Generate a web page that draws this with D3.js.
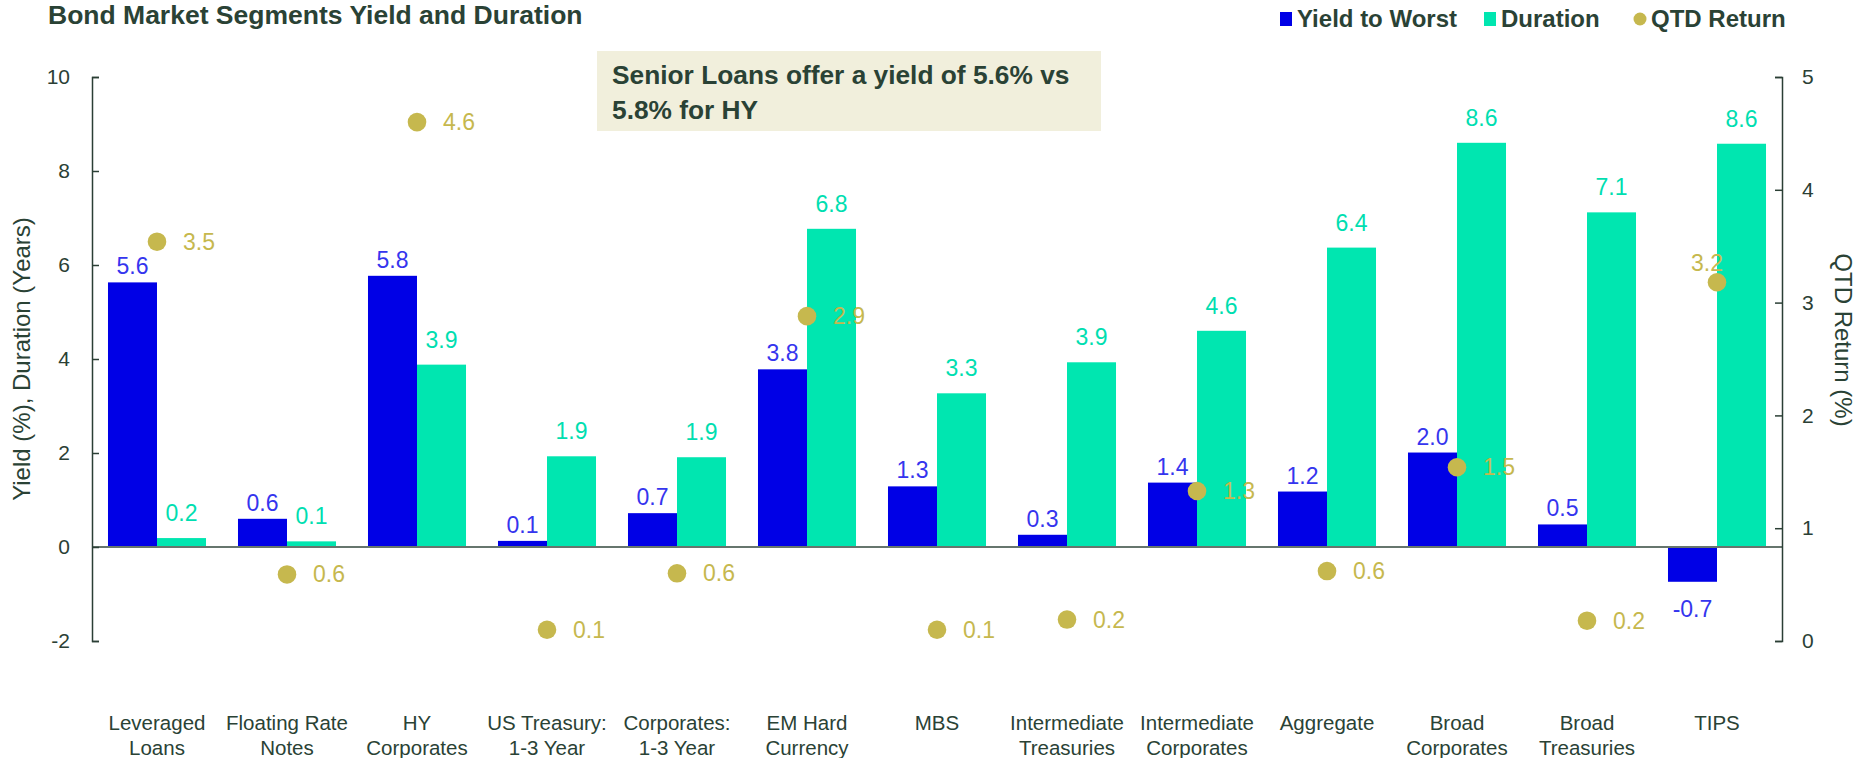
<!DOCTYPE html>
<html>
<head>
<meta charset="utf-8"/>
<script src="https://d3js.org/d3.v7.min.js"></script>
<style>
  body { margin: 0; background: #fff; overflow: hidden; }
  text { font-family: "Liberation Sans", Arial, sans-serif; }
  .axis path, .axis line { stroke: #2b3f35; stroke-width: 1.5; }
  .axis text { fill: #2b3f35; font-size: 21px; }
</style>
</head>
<body>
<svg id="svg" width="1864" height="758"></svg>
<script>
// chart values
var categories = [
  ["Leveraged", "Loans"], ["Floating Rate", "Notes"], ["HY", "Corporates"],
  ["US Treasury:", "1-3 Year"], ["Corporates:", "1-3 Year"], ["EM Hard", "Currency"],
  ["MBS"], ["Intermediate", "Treasuries"], ["Intermediate", "Corporates"],
  ["Aggregate"], ["Broad", "Corporates"], ["Broad", "Treasuries"], ["TIPS"]
];
var yieldToWorst = [5.63, 0.6, 5.77, 0.13, 0.72, 3.78, 1.29, 0.26, 1.37, 1.18, 2.01, 0.48, -0.74];
var duration     = [0.19, 0.12, 3.88, 1.93, 1.91, 6.77, 3.27, 3.93, 4.6, 6.37, 8.6, 7.12, 8.58];
var qtdReturn    = [3.54, 0.59, 4.6, 0.1, 0.6, 2.88, 0.1, 0.19, 1.33, 0.62, 1.54, 0.18, 3.18];
var leftTicks  = [-2, 0, 2, 4, 6, 8, 10];
var rightTicks = [0, 1, 2, 3, 4, 5];

var blue = "#0000e6", green = "#00e6b0", gold = "#c6b84e", ink = "#2a4235";

var margin = { left: 92, right: 82, top: 77, bottom: 117 },
    width = 1864 - margin.left - margin.right,
    height = 758 - margin.top - margin.bottom;

var svg = d3.select("#svg");
var g = svg.append("g").attr("transform", "translate(" + margin.left + "," + margin.top + ")");

var x = d3.scaleBand()
    .domain(d3.range(categories.length))
    .range([0, width])
    .paddingInner(0.246)
    .paddingOuter(0.123);
var xSub = d3.scaleBand().domain(["y", "d"]).range([0, x.bandwidth()]);

var yL = d3.scaleLinear().domain([-2, 10]).range([height, 0]);
var yR = d3.scaleLinear().domain([0, 5]).range([height, 0]);

// bars
var grp = g.selectAll(".cat").data(categories).enter().append("g")
    .attr("class", "cat")
    .attr("transform", function(d, i) { return "translate(" + x(i) + ",0)"; });

grp.append("rect")
    .attr("x", xSub("y"))
    .attr("width", xSub.bandwidth())
    .attr("y", function(d, i) { return yL(Math.max(0, yieldToWorst[i])); })
    .attr("height", function(d, i) { return Math.abs(yL(yieldToWorst[i]) - yL(0)); })
    .attr("fill", blue);

grp.append("rect")
    .attr("x", xSub("d"))
    .attr("width", xSub.bandwidth())
    .attr("y", function(d, i) { return yL(Math.max(0, duration[i])); })
    .attr("height", function(d, i) { return Math.abs(yL(duration[i]) - yL(0)); })
    .attr("fill", green);

// zero line
g.append("line")
    .attr("x1", 0).attr("x2", width)
    .attr("y1", yL(0)).attr("y2", yL(0))
    .attr("stroke", "#66756d").attr("stroke-width", 2);

// bar labels
grp.append("text")
    .attr("x", xSub("y") + xSub.bandwidth() / 2)
    .attr("y", function(d, i) { return yieldToWorst[i] >= 0 ? yL(yieldToWorst[i]) - 8 : yL(yieldToWorst[i]) + 35; })
    .attr("text-anchor", "middle")
    .style("font-size", "23px")
    .style("fill", "#3535ee")
    .text(function(d, i) { return yieldToWorst[i].toFixed(1); });

grp.append("text")
    .attr("x", xSub("d") + xSub.bandwidth() / 2)
    .attr("y", function(d, i) { return yL(duration[i]) - 17; })
    .attr("text-anchor", "middle")
    .style("font-size", "23px")
    .style("fill", "#00deb0")
    .text(function(d, i) { return duration[i].toFixed(1); });

// QTD dots
grp.append("circle")
    .attr("cx", x.bandwidth() / 2)
    .attr("cy", function(d, i) { return yR(qtdReturn[i]); })
    .attr("r", 9.3)
    .attr("fill", gold);

grp.append("text")
    .attr("x", function(d, i) { return i == categories.length - 1 ? x.bandwidth() / 2 - 10 : x.bandwidth() / 2 + 26; })
    .attr("y", function(d, i) { return i == categories.length - 1 ? yR(qtdReturn[i]) - 11 : yR(qtdReturn[i]) + 8; })
    .attr("text-anchor", function(d, i) { return i == categories.length - 1 ? "middle" : "start"; })
    .style("font-size", "23px")
    .style("fill", gold)
    .text(function(d, i) { return qtdReturn[i].toFixed(1); });

// category labels
grp.append("text")
    .attr("text-anchor", "middle")
    .style("font-size", "20.5px")
    .style("fill", ink)
    .selectAll("tspan")
    .data(function(d) { return d; })
    .enter().append("tspan")
    .attr("x", x.bandwidth() / 2)
    .attr("y", function(d, i) { return height + 89 + i * 25; })
    .text(function(d) { return d; });

// axes
g.append("g").attr("class", "axis")
    .call(d3.axisLeft(yL).tickValues(leftTicks).tickFormat(function(d) { return String(d); })
      .tickSizeInner(-7).tickSizeOuter(-7).tickPadding(22));

g.append("g").attr("class", "axis")
    .attr("transform", "translate(" + width + ",0)")
    .call(d3.axisRight(yR).tickValues(rightTicks).tickFormat(function(d) { return String(d); })
      .tickSizeInner(-7).tickSizeOuter(-7).tickPadding(20));

g.selectAll(".axis .domain").attr("fill", "none");

// axis titles
svg.append("text")
    .attr("transform", "translate(30," + (margin.top + height / 2) + ") rotate(-90)")
    .attr("text-anchor", "middle")
    .style("font-size", "24px")
    .style("fill", ink)
    .text("Yield (%), Duration (Years)");

svg.append("text")
    .attr("transform", "translate(1835,340) rotate(90)")
    .attr("text-anchor", "middle")
    .style("font-size", "24px")
    .style("fill", ink)
    .text("QTD Return (%)");

// title
svg.append("text")
    .attr("x", 48).attr("y", 24)
    .style("font-size", "26.5px")
    .style("font-weight", "bold")
    .style("fill", ink)
    .text("Bond Market Segments Yield and Duration");

// annotation
svg.append("rect")
    .attr("x", 597).attr("y", 51).attr("width", 504).attr("height", 80)
    .attr("fill", "#f1efdc");
var note = svg.append("text")
    .style("font-size", "26.3px")
    .style("font-weight", "bold")
    .style("fill", ink);
note.append("tspan").attr("x", 612).attr("y", 84).text("Senior Loans offer a yield of 5.6% vs");
note.append("tspan").attr("x", 612).attr("y", 119).text("5.8% for HY");

// legend
var legendItems = [
  { name: "Yield to Worst", color: blue, shape: "rect", x: 1280 },
  { name: "Duration", color: green, shape: "rect", x: 1484 },
  { name: "QTD Return", color: gold, shape: "circle", x: 1634 }
];
var lg = svg.selectAll(".legend").data(legendItems).enter().append("g")
    .attr("class", "legend")
    .attr("transform", function(d) { return "translate(" + d.x + ",19)"; });
lg.filter(function(d) { return d.shape == "rect"; }).append("rect")
    .attr("x", 0).attr("y", -7).attr("width", 12).attr("height", 14)
    .attr("fill", function(d) { return d.color; });
lg.filter(function(d) { return d.shape == "circle"; }).append("circle")
    .attr("cx", 6).attr("cy", 0).attr("r", 6.5)
    .attr("fill", function(d) { return d.color; });
lg.append("text")
    .attr("x", 17).attr("y", 8)
    .style("font-size", "24px")
    .style("font-weight", "bold")
    .style("fill", ink)
    .text(function(d) { return d.name; });
</script>
</body>
</html>
